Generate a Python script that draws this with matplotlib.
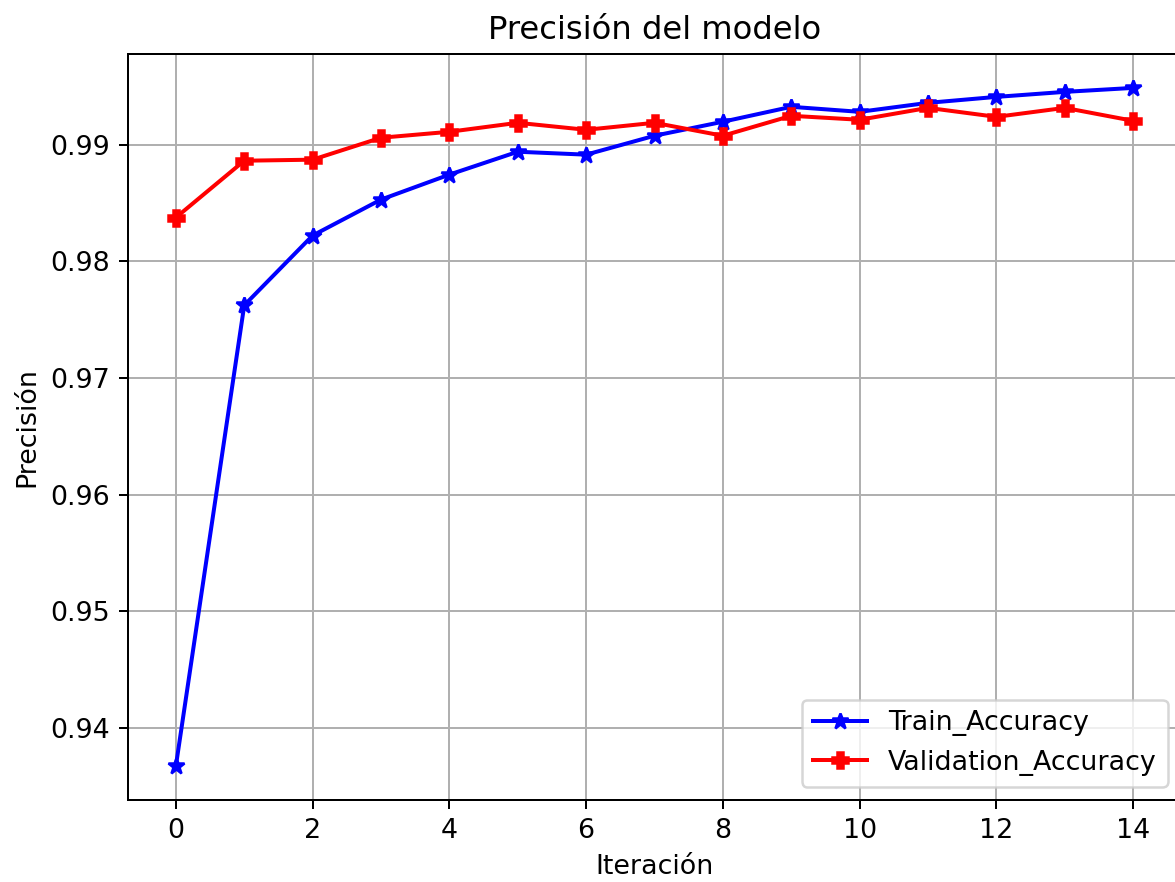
import matplotlib
matplotlib.use("Agg")
import matplotlib.pyplot as plt

# Valores (15 iteraciones)
iteraciones = list(range(15))
train_accuracy = [0.93675, 0.97624, 0.98222, 0.98530, 0.98744, 0.98940, 0.98915, 0.99077,
                  0.99197, 0.99325, 0.99282, 0.99359, 0.99410, 0.99453, 0.99487]
val_accuracy = [0.98376, 0.98863, 0.98872, 0.99060, 0.99111, 0.99188, 0.99128, 0.99188,
                0.99077, 0.99248, 0.99214, 0.99316, 0.99239, 0.99316, 0.99205]

plt.rcParams['font.size'] = 10.75
plt.rcParams['lines.linewidth'] = 1.6
plt.rcParams['lines.markersize'] = 6.5

dpi = 180
fig = plt.figure(figsize=(1175 / dpi, 882 / dpi), dpi=dpi)
ax = fig.add_axes([128 / 1175, 82 / 882, 1053 / 1175, 746 / 882])

ax.plot(iteraciones, train_accuracy, color='blue', marker='*', label='Train_Accuracy')
ax.plot(iteraciones, val_accuracy, color='red', marker='P', label='Validation_Accuracy')

ax.set_title('Precisión del modelo')
ax.set_xlabel('Iteración')
ax.set_ylabel('Precisión')
ax.grid(True)
ax.legend(loc='lower right')

fig.savefig('out.png', dpi=dpi)
